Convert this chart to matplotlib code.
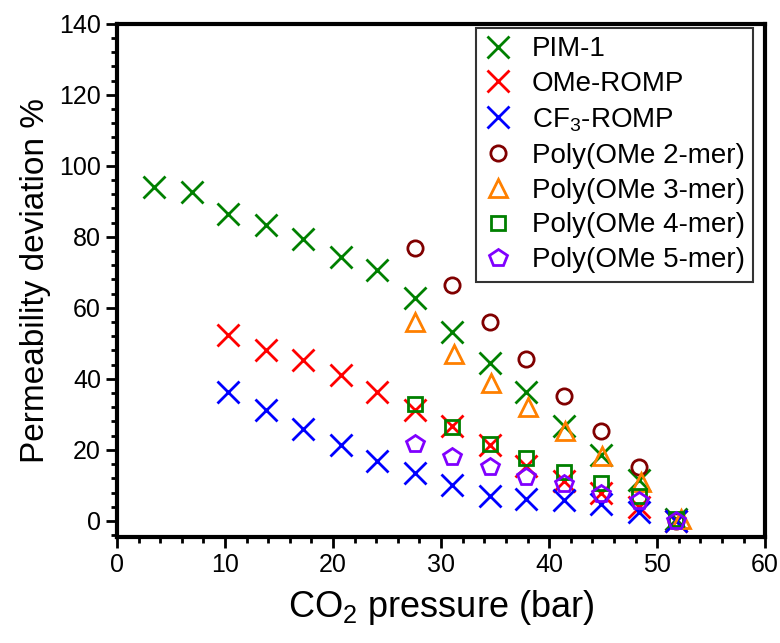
import matplotlib
matplotlib.use("Agg")
import matplotlib.pyplot as plt
from matplotlib.ticker import MultipleLocator

plt.rcParams["font.family"] = ["Liberation Sans", "DejaVu Sans"]
plt.rcParams["mathtext.fontset"] = "custom"
plt.rcParams["mathtext.rm"] = "Liberation Sans"

# pressures (bar)
P_ROMP = [10.3, 13.8, 17.2, 20.7, 24.1, 27.6, 31.0, 34.5, 37.9, 41.4, 44.8, 48.3, 51.7]
P_PIM = [3.4, 6.9] + P_ROMP
P_MER = [27.6, 31.0, 34.5, 37.9, 41.4, 44.8, 48.3, 51.7]
P_MER3 = [27.6, 31.2, 34.6, 38.0, 41.5, 44.9, 48.5, 52.2]

# permeability deviation (%)
pim1 = [94.0, 92.5, 86.5, 83.3, 79.5, 74.3, 70.7, 62.8, 53.2, 44.6, 36.3, 26.8, 18.5, 11.5, 0.5]
ome_romp = [52.3, 48.0, 45.2, 41.2, 36.3, 31.1, 26.8, 21.4, 15.5, 11.3, 8.0, 3.8, 0.0]
cf3_romp = [36.3, 31.1, 25.9, 21.5, 16.9, 13.5, 10.1, 7.1, 6.1, 5.8, 4.7, 2.4, 0.0]
mer2 = [76.9, 66.3, 55.9, 45.7, 35.1, 25.4, 15.3, 0.0]
mer3 = [56.0, 47.1, 38.8, 32.0, 25.4, 18.4, 11.0, 0.5]
mer4 = [33.0, 26.4, 21.7, 17.7, 13.7, 10.8, 7.1, 0.5]
mer5 = [21.7, 17.9, 15.3, 12.4, 10.5, 7.5, 5.5, 0.0]

fig = plt.figure(figsize=(7.8, 6.43), dpi=100)
ax = fig.add_axes([0.15, 0.165, 0.831, 0.798])

xkw = dict(ls="none", marker="x", ms=16, mew=2)
ax.plot(P_PIM, pim1, color="#008000", label="PIM-1", **xkw)
ax.plot(P_ROMP, ome_romp, color="#ff0000", label="OMe-ROMP", **xkw)
ax.plot(P_ROMP, cf3_romp, color="#0000ff", label="CF$_3$-ROMP", **xkw)
ax.plot(P_MER, mer2, ls="none", marker="o", ms=11, mew=2, mfc="none",
        color="#800000", label="Poly(OMe 2-mer)")
ax.plot(P_MER3, mer3, ls="none", marker="^", ms=13, mew=2, mfc="none",
        color="#ff8000", label="Poly(OMe 3-mer)")
ax.plot(P_MER, mer4, ls="none", marker="s", ms=10, mew=2, mfc="none",
        color="#008000", label="Poly(OMe 4-mer)")
ax.plot(P_MER, mer5, ls="none", marker="p", ms=13, mew=2, mfc="none",
        color="#8000ff", label="Poly(OMe 5-mer)")

ax.set_xlim(0, 60)
ax.set_ylim(-4.5, 140)
ax.xaxis.set_major_locator(MultipleLocator(10))
ax.xaxis.set_minor_locator(MultipleLocator(2))
ax.yaxis.set_major_locator(MultipleLocator(20))
ax.yaxis.set_minor_locator(MultipleLocator(4))
ax.tick_params(which="major", direction="out", length=8, width=2, labelsize=18)
ax.tick_params(which="minor", direction="out", length=4, width=2)
for s in ax.spines.values():
    s.set_linewidth(3)

ax.set_xlabel("CO$_2$ pressure (bar)", fontsize=26, labelpad=8)
ax.set_ylabel("Permeability deviation %", fontsize=24, labelpad=6)

leg = ax.legend(loc="upper right", bbox_to_anchor=(0.981, 0.992), borderaxespad=0,
                fontsize=20, frameon=True, fancybox=False, edgecolor="black",
                handlelength=1.0, handletextpad=0.7, labelspacing=0.32,
                borderpad=0.3)
leg.get_frame().set_linewidth(1.5)

fig.savefig("out.png", dpi=100)
